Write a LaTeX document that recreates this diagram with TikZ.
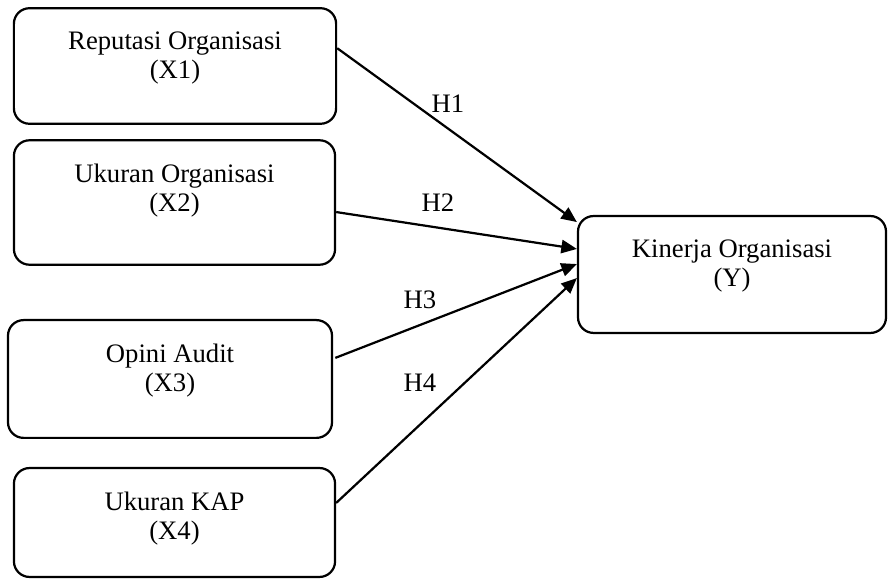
\documentclass[tikz,border=0pt]{standalone}
\usepackage{fontspec}
\setmainfont{Liberation Serif}
\usepackage{tikz}
\usetikzlibrary{arrows.meta,positioning}
\tikzset{varbox/.style={draw,rectangle,rounded corners=7pt,line width=1pt,inner sep=0},
    boxtext/.style={anchor=north,yshift=-11pt,inner sep=0,align=center,font=\fontsize{12}{13}\selectfont},
    hyplabel/.style={inner sep=0,font=\fontsize{12}{13}\selectfont},
    hyparrow/.style={-{Triangle[length=7pt,width=6pt]},line width=1pt}
}

\begin{document}
\begin{tikzpicture}[x=0.45pt,y=-0.45pt]

\useasboundingbox (0,0) rectangle (888,579);

% independent variables

\node (repX1) at (175,66) [varbox,minimum width=145pt,minimum height=52pt,
    label={[boxtext]north:{Reputasi Organisasi\\(X1)}}] {};
\node (ukurX2) at (174.5,202.5) [varbox,minimum width=144.5pt,minimum height=56pt,
    label={[boxtext]north:{Ukuran Organisasi\\(X2)}}] {};
\node (opiniX3) at (170,379) [varbox,minimum width=145.8pt,minimum height=53pt,
    label={[boxtext]north:{Opini Audit\\(X3)}}] {};
\node (kapX4) at (174.5,522.5) [varbox,minimum width=144.5pt,minimum height=49pt,
    label={[boxtext]north:{Ukuran KAP\\(X4)}}] {};

% dependent variable

\node (kinY) at (732,274.5) [varbox,minimum width=138.6pt,minimum height=52.6pt,
    label={[boxtext]north:{Kinerja Organisasi\\(Y)}}] {};

% hypotheses

\draw [hyparrow] ([yshift=8pt]repX1.east) -- ([yshift=23.6pt]kinY.west);
\draw [hyparrow] ([yshift=-4.3pt]ukurX2.east) -- ([yshift=11.5pt]kinY.west);
\draw [hyparrow] ([xshift=1pt,yshift=9.5pt]opiniX3.east) -- ([yshift=4.7pt]kinY.west);
\draw [hyparrow] ([yshift=8.8pt]kapX4.east) -- ([yshift=-1.6pt]kinY.west);

\node (h1) at (448,104) [hyplabel] {H1};
\node (h2) at (438,203) [hyplabel] {H2};
\node (h3) at (420,300) [hyplabel] {H3};
\node (h4) at (420,383) [hyplabel] {H4};

\end{tikzpicture}
\end{document}
